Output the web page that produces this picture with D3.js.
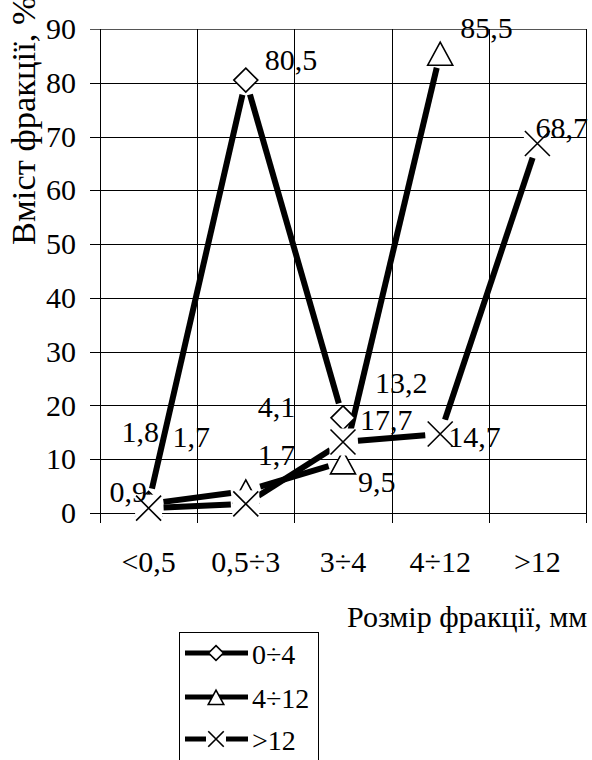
<!DOCTYPE html>
<html>
<head>
<meta charset="utf-8">
<script src="https://cdn.jsdelivr.net/npm/d3@7"></script>
<style>
  html, body { margin: 0; padding: 0; background: #fff; }
</style>
</head>
<body>
<svg id="chart" width="592" height="760" style="display:block"></svg>
<script>
// ---- data ----
const categories = ["<0,5", "0,5÷3", "3÷4", "4÷12", ">12"];
const seriesNames = ["0÷4", "4÷12", ">12"];
const values0to4 = [1.8, 80.5, 17.7, null, null];
const values4to12 = [1.7, 4.1, 9.5, 85.5, null];
const valuesOver12 = [0.9, 1.7, 13.2, 14.7, 68.7];
const yTicks = [0, 10, 20, 30, 40, 50, 60, 70, 80, 90];
const yTitle = "Вміст фракції, %";
const xTitle = "Розмір фракції, мм";

// ---- layout (kept apart from data) ----
const FONT = "'Liberation Serif', 'Times New Roman', serif";
const labelOffsets = [
  [[-27, -61], [19, -10], [17, 12], null, null],
  [[24, -57], [12, -74], [15, 30], [20, -15], null],
  [[-39, -6], [12, -39], [32, -49], [8, 13], [-2, -6]]
];
const markerTypes = ["diamond", "triangle", "cross"];

const svg = d3.select("#chart").style("font-family", FONT);
const pLeft = 100, pRight = 586, pTop = 29, pBottom = 513;

const x = d3.scaleBand().domain(categories).range([pLeft, pRight]).padding(0);
const y = d3.scaleLinear().domain([0, 90]).range([pBottom, pTop]);
const cx = c => x(c) + x.bandwidth() / 2;

// gridlines
const grid = svg.append("g").attr("shape-rendering", "crispEdges");
grid.selectAll("line.h").data(yTicks).enter().append("line")
  .attr("x1", pLeft - 10).attr("x2", pRight)
  .attr("y1", d => Math.round(y(d)) + 0.5).attr("y2", d => Math.round(y(d)) + 0.5)
  .attr("stroke", d => d === 90 ? "#555" : "#000").attr("stroke-width", 1);
const bounds = categories.map(c => x(c)).concat([pRight]);
grid.selectAll("line.v").data(bounds).enter().append("line")
  .attr("x1", d => Math.round(d) + 0.5).attr("x2", d => Math.round(d) + 0.5)
  .attr("y1", pTop).attr("y2", pBottom + 10)
  .attr("stroke", "#000").attr("stroke-width", 1);

// y axis labels
const yAxis = d3.axisLeft(y).tickValues(yTicks).tickSize(0).tickPadding(24);
const gy = svg.append("g").attr("transform", `translate(${pLeft},0)`).call(yAxis);
gy.attr("font-family", null).style("font-family", FONT);
gy.select(".domain").remove();
gy.selectAll("text").attr("font-size", 30).style("font-family", FONT).attr("fill", "#000");

// x axis labels
const xAxis = d3.axisBottom(x).tickSize(0).tickPadding(0);
const gx = svg.append("g").attr("transform", `translate(0,${pBottom})`).call(xAxis);
gx.attr("font-family", null).style("font-family", FONT);
gx.select(".domain").remove();
gx.selectAll("text").attr("font-size", 30).style("font-family", FONT)
  .attr("fill", "#000").attr("dy", null).attr("y", 59);

// titles
svg.append("text")
  .attr("transform", `translate(35,245) rotate(-90)`)
  .attr("font-size", 34.5).style("font-family", FONT).attr("text-anchor", "start").attr("fill", "#000")
  .text(yTitle);
svg.append("text")
  .attr("x", 347).attr("y", 627)
  .attr("font-size", 30).style("font-family", FONT).attr("text-anchor", "start").attr("fill", "#000")
  .text(xTitle);

// lines
const allSeries = [values0to4, values4to12, valuesOver12];
const gap = 15;
const lineG = svg.append("g");
allSeries.forEach((vals) => {
  for (let i = 0; i < vals.length - 1; i++) {
    if (vals[i] == null || vals[i + 1] == null) continue;
    const x1 = cx(categories[i]), y1 = y(vals[i]);
    const x2 = cx(categories[i + 1]), y2 = y(vals[i + 1]);
    const len = Math.hypot(x2 - x1, y2 - y1);
    const ux = (x2 - x1) / len, uy = (y2 - y1) / len;
    lineG.append("line")
      .attr("x1", x1 + ux * gap).attr("y1", y1 + uy * gap)
      .attr("x2", x2 - ux * gap).attr("y2", y2 - uy * gap)
      .attr("stroke", "#000").attr("stroke-width", 6).attr("stroke-linecap", "butt");
  }
});

function drawMarker(g, type, px, py, s, bg) {
  if (type === "diamond") {
    g.append("path")
      .attr("d", `M${px},${py - 12 * s}L${px + 12 * s},${py}L${px},${py + 12 * s}L${px - 12 * s},${py}Z`)
      .attr("fill", "#fff").attr("stroke", "#000").attr("stroke-width", 1.6);
  } else if (type === "triangle") {
    g.append("path")
      .attr("d", `M${px},${py - 11 * s}L${px + 12.5 * s},${py + 12 * s}L${px - 12.5 * s},${py + 12 * s}Z`)
      .attr("fill", "#fff").attr("stroke", "#000").attr("stroke-width", 1.6);
  } else {
    const h = bg || 13.5 * s;
    g.append("rect")
      .attr("x", px - h).attr("y", py - h)
      .attr("width", 2 * h).attr("height", 2 * h).attr("fill", "#fff");
    g.append("path")
      .attr("d", `M${px - 12.5 * s},${py - 12.5 * s}L${px + 12.5 * s},${py + 12.5 * s}M${px + 12.5 * s},${py - 12.5 * s}L${px - 12.5 * s},${py + 12.5 * s}`)
      .attr("fill", "none").attr("stroke", "#000").attr("stroke-width", 1.6);
  }
}

// markers
const markG = svg.append("g");
allSeries.forEach((vals, si) => {
  vals.forEach((v, i) => {
    if (v == null) return;
    drawMarker(markG, markerTypes[si], cx(categories[i]), y(v), 1);
  });
});

// data labels
const labG = svg.append("g");
allSeries.forEach((vals, si) => {
  vals.forEach((v, i) => {
    if (v == null) return;
    const off = labelOffsets[si][i];
    labG.append("text")
      .attr("x", cx(categories[i]) + off[0])
      .attr("y", y(v) + off[1])
      .attr("font-size", 30).style("font-family", FONT).attr("fill", "#000")
      .text(String(v).replace(".", ","));
  });
});

// legend
const lg = svg.append("g");
lg.append("rect").attr("x", 179.5).attr("y", 632.5).attr("width", 139).attr("height", 160)
  .attr("fill", "#fff").attr("stroke", "#000").attr("stroke-width", 1);
const legendY = [653, 697, 739];
seriesNames.forEach((name, si) => {
  const ly = legendY[si];
  lg.append("line").attr("x1", 185).attr("x2", 248).attr("y1", ly).attr("y2", ly)
    .attr("stroke", "#000").attr("stroke-width", 5);
  drawMarker(lg, markerTypes[si], 216, ly, 0.62, 10);
  lg.append("text").attr("x", 252).attr("y", ly + 11)
    .attr("font-size", 28).style("font-family", FONT).attr("fill", "#000").text(name);
});
</script>
</body>
</html>
